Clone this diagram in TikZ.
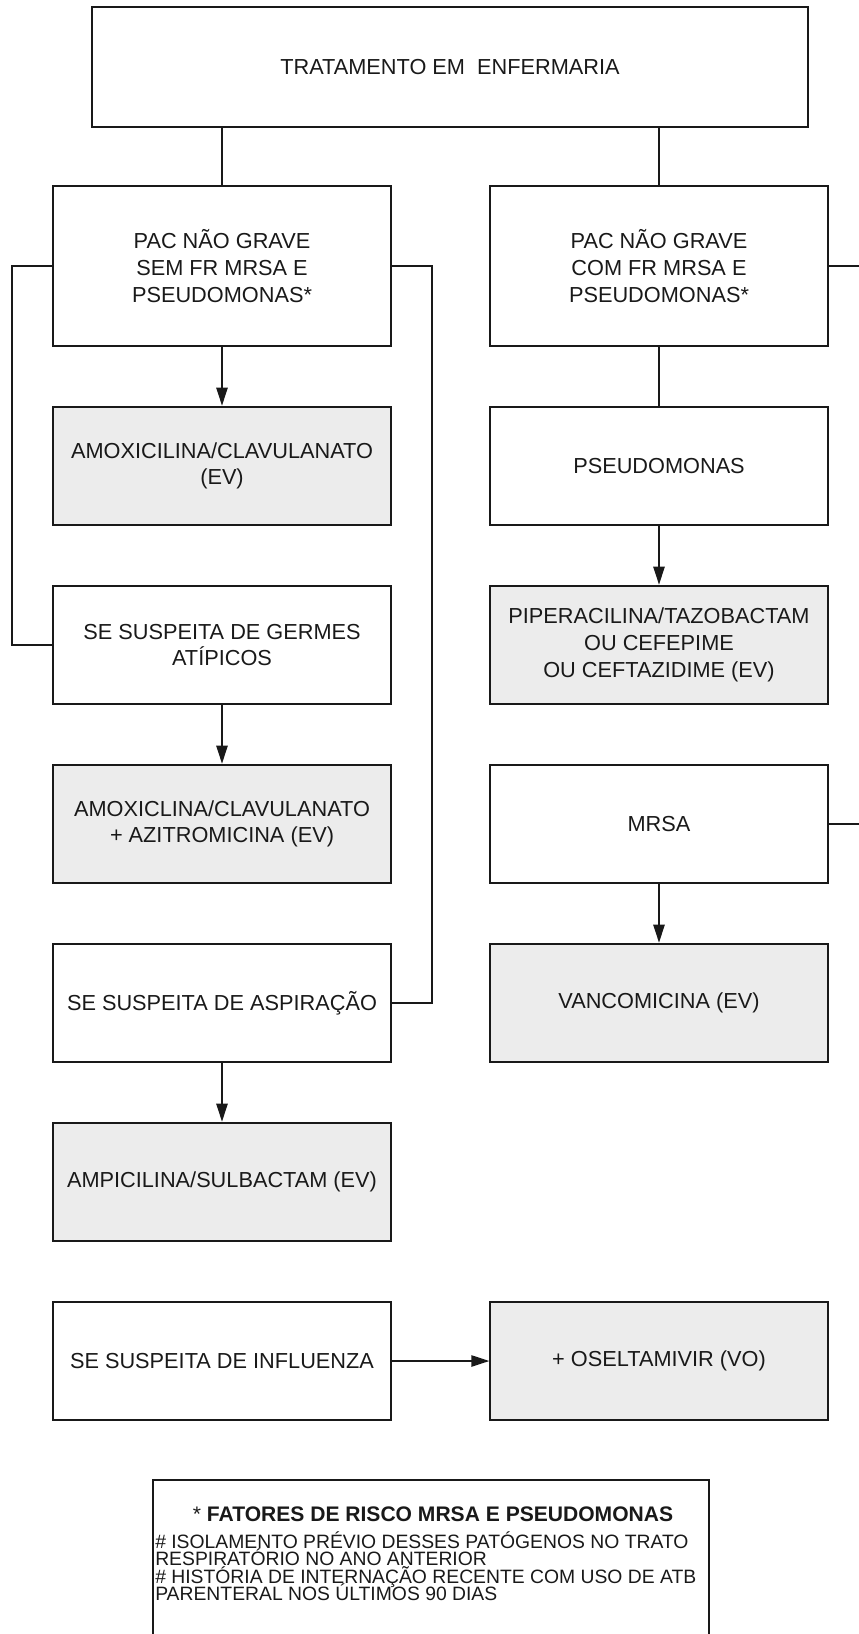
\documentclass[tikz,border=0pt]{standalone}
\usepackage{fontspec}
\setmainfont{Liberation Sans}
\usetikzlibrary{arrows.meta}
\definecolor{tinta}{RGB}{25,25,25}
\definecolor{cinzaDroga}{RGB}{236,236,236}
\newcommand{\fonteNota}{\fontsize{14.5}{13.2}\selectfont\lineskiplimit=-20pt\relax}
\tikzset{
	caixa/.style={draw=tinta, line width=1.4pt, text=tinta, align=center, inner sep=2pt,
		minimum width=253pt, minimum height=89pt, font=\fontsize{16.3}{20}\selectfont},
	droga/.style={caixa, fill=cinzaDroga},
	liga/.style={draw=tinta, line width=1.4pt},
	seta/.style={liga, -{Triangle[length=13.5pt,width=8.4pt]}}
}

\begin{document}
\begin{tikzpicture}[x=0.75pt, y=-0.75pt]
			%%%%% START %%%%%
			\useasboundingbox (0,0) rectangle (859,1634);
			\clip (0,0) rectangle (859,1634);
			
			\node[caixa, minimum width=537pt, minimum height=89.5pt] (topo) at (450,67) {TRATAMENTO EM\ \ ENFERMARIA};
			
			\node[caixa, minimum height=120pt] (pacSem) at (222,266) {PAC NÃO GRAVE\\SEM FR MRSA E\\PSEUDOMONAS*};
			\node[caixa, minimum height=120pt] (pacCom) at (659,266) {PAC NÃO GRAVE\\COM FR MRSA E\\PSEUDOMONAS*};
			
			\node[droga] (amox) at (222,466) {AMOXICILINA/CLAVULANATO\\(EV)};
			\node[caixa] (germes) at (222,645) {SE SUSPEITA DE GERMES\\ATÍPICOS};
			\node[droga] (amoxAzi) at (222,824) {AMOXICLINA/CLAVULANATO\\+ AZITROMICINA (EV)};
			\node[caixa] (aspir) at (222,1003) {SE SUSPEITA DE ASPIRAÇÃO};
			\node[droga] (ampi) at (222,1182) {AMPICILINA/SULBACTAM (EV)};
			
			\node[caixa] (pseudo) at (659,466) {PSEUDOMONAS};
			\node[droga] (pipera) at (659,645) {PIPERACILINA/TAZOBACTAM\\OU CEFEPIME\\OU CEFTAZIDIME (EV)};
			\node[caixa] (mrsa) at (659,824) {MRSA};
			\node[droga] (vanco) at (659,1003) {VANCOMICINA (EV)};
			
			\node[caixa] (influ) at (222,1361) {SE SUSPEITA DE INFLUENZA};
			\node[droga] (oselt) at (659,1361) {+ OSELTAMIVIR (VO)};
			
			\coordinate (esq) at (12,0);
			\coordinate (dir) at (432,0);
			\coordinate (borda) at (880,0);
			
			\draw[liga] (pacSem.north) -- (pacSem.north |- topo.south);
			\draw[liga] (pacCom.north) -- (pacCom.north |- topo.south);
			
			\draw[seta] (pacSem) -- (amox);
			\draw[seta] (germes) -- (amoxAzi);
			\draw[seta] (aspir) -- (ampi);
			\draw[liga] (pacSem.west) -- (pacSem.west -| esq) |- (germes.west);
			\draw[liga] (pacSem.east) -- (pacSem.east -| dir) |- (aspir.east);
			
			\draw[liga] (pacCom) -- (pseudo);
			\draw[seta] (pseudo) -- (pipera);
			\draw[seta] (mrsa) -- (vanco);
			\draw[liga] (pacCom.east) -- (pacCom.east -| borda);
			\draw[liga] (mrsa.east) -- (mrsa.east -| borda);
			
			\draw[seta] (influ) -- (oselt);
			
			% nota de rodape
			\draw[liga] (153,1480) rectangle (709,1700);
			\node[anchor=base, text=tinta, inner sep=0pt, font=\fontsize{15.8}{18}\selectfont] (notaTit) at (433,1521.5) {* \textbf{FATORES DE RISCO MRSA E PSEUDOMONAS}};
			\node[anchor=north west, align=left, text=tinta, inner sep=0pt, font=\fonteNota] (notaTxt) at (155,1531) {\# ISOLAMENTO PRÉVIO DESSES PATÓGENOS NO TRATO\\RESPIRATÓRIO NO ANO ANTERIOR\\\# HISTÓRIA DE INTERNAÇÃO RECENTE COM USO DE ATB\\PARENTERAL NOS ÚLTIMOS 90 DIAS};
			%%%%% END %%%%%
\end{tikzpicture}
\end{document}
